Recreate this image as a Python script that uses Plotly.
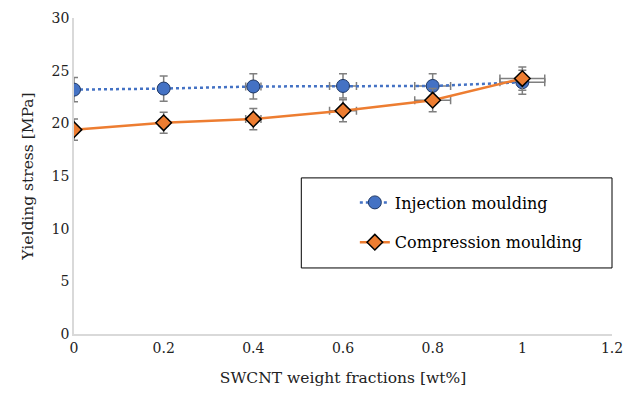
import plotly.graph_objects as go

x_vals = [0, 0.2, 0.4, 0.6, 0.8, 1.0]
injection = [23.2, 23.3, 23.5, 23.55, 23.55, 23.9]
injection_err_y = [1.15, 1.2, 1.2, 1.15, 1.15, 1.15]
compression = [19.4, 20.05, 20.4, 21.2, 22.2, 24.25]
compression_err_y = [1.0, 1.0, 1.0, 1.05, 1.1, 1.1]
x_err = [0.0, 0.01, 0.017, 0.03, 0.04, 0.05]

font_fam = "DejaVu Serif"
err_color = "#7f7f7f"

fig = go.Figure()
fig.add_trace(go.Scatter(
    x=x_vals, y=injection, mode="lines+markers", name="Injection moulding",
    legendgroup="a",
    line=dict(color="#4472C4", width=2.5, dash="dot"),
    marker=dict(symbol="circle", size=13, color="#4472C4", line=dict(color="#1f3864", width=1)),
    error_y=dict(type="data", array=injection_err_y, visible=True, color=err_color, thickness=1.5, width=4),
    error_x=dict(type="data", array=x_err, visible=True, color=err_color, thickness=1.5, width=4),
))
fig.add_trace(go.Scatter(
    x=x_vals, y=compression, mode="lines+markers", name="Compression moulding",
    legendgroup="b",
    line=dict(color="#ED7D31", width=2.5),
    marker=dict(symbol="diamond", size=12, color="#ED7D31", line=dict(color="black", width=1.5)),
    error_y=dict(type="data", array=compression_err_y, visible=True, color=err_color, thickness=1.5, width=4),
    error_x=dict(type="data", array=x_err, visible=True, color=err_color, thickness=1.5, width=4),
))

fig.update_layout(
    width=625, height=394,
    margin=dict(l=74, r=13, t=18, b=60, autoexpand=False),
    paper_bgcolor="white", plot_bgcolor="white",
    font=dict(family=font_fam, size=14, color="#222222"),
    showlegend=True,
    legend=dict(x=0.522, y=0.47, xanchor="left", yanchor="top",
                bgcolor="rgba(0,0,0,0)", borderwidth=0,
                font=dict(family=font_fam, size=16, color="black"),
                tracegroupgap=16),
    shapes=[dict(type="rect", xref="paper", yref="paper", x0=0.4225, x1=1.0, y0=0.209, y1=0.494,
                 line=dict(color="black", width=1), fillcolor="white", layer="below")],
)
fig.update_xaxes(range=[0, 1.2], tickvals=[0, 0.2, 0.4, 0.6, 0.8, 1, 1.2],
                 ticktext=["0", "0.2", "0.4", "0.6", "0.8", "1", "1.2"],
                 ticklabeloverflow="allow", automargin=False,
                 showgrid=False, zeroline=False, showline=True, linecolor="#d9d9d9", linewidth=1.5,
                 ticks="", title=dict(text="SWCNT weight fractions [wt%]", font=dict(size=15.5), standoff=18))
fig.update_yaxes(range=[0, 30], tickvals=[0, 5, 10, 15, 20, 25, 30], automargin=False,
                 showgrid=False, zeroline=False, showline=True, linecolor="#d9d9d9", linewidth=1.5,
                 ticks="", title=dict(text="Yielding stress [MPa]", font=dict(size=15.5), standoff=14))

fig.write_html("out.html")
